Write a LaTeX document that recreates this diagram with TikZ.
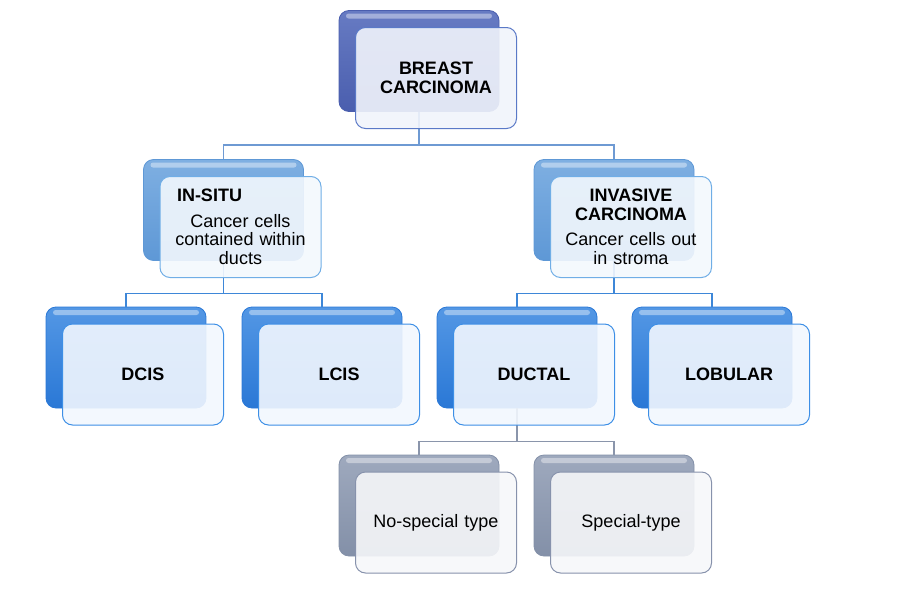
\documentclass[tikz,border=0pt]{standalone}
\usepackage{fontspec}
\setmainfont{Liberation Sans}
\usepackage{xcolor}
\usepackage{tikz}
\definecolor{topDark}{HTML}{4A5EAE}
\definecolor{topLight}{HTML}{8A9EDC}
\definecolor{topEdge}{HTML}{5A79C7}
\definecolor{topFront}{HTML}{F1F4FB}
\definecolor{topLine}{HTML}{6E9AD3}
\definecolor{midDark}{HTML}{5E98D6}
\definecolor{midLight}{HTML}{A6CBF0}
\definecolor{midEdge}{HTML}{70AEE6}
\definecolor{midFront}{HTML}{F3F8FD}
\definecolor{midLine}{HTML}{3E87D8}
\definecolor{lowDark}{HTML}{2A78D6}
\definecolor{lowLight}{HTML}{86BDF6}
\definecolor{lowEdge}{HTML}{3D8FE6}
\definecolor{lowFront}{HTML}{F2F7FE}
\definecolor{lowLine}{HTML}{8A95AB}
\definecolor{subDark}{HTML}{8390A8}
\definecolor{subLight}{HTML}{C0C8D8}
\definecolor{subEdge}{HTML}{8792AC}
\definecolor{subFront}{HTML}{F6F7F9}
\newcommand{\boxfont}{\fontsize{18}{18.5}\selectfont}
\tikzset{
  backbox/.style 2 args={rectangle, rounded corners=10pt, draw=#1, top color=#2!45!#1, bottom color=#1, line width=0.8pt, minimum width=160pt, minimum height=101pt, inner sep=0pt,
    path picture={\fill[white, opacity=0.4, rounded corners=2.5pt] ([xshift=7pt,yshift=-3pt]path picture bounding box.north west) rectangle ([xshift=-7pt,yshift=-8pt]path picture bounding box.north east);}},
  frontbox/.style 2 args={rectangle, rounded corners=10pt, draw=#1, fill=#2, fill opacity=0.9, text opacity=1, line width=1pt, align=center, font=\boxfont, text width=145pt, minimum width=161pt, minimum height=101pt, inner sep=0pt},
  treeline/.style={draw=#1, line width=1.3pt},
}

\begin{document}
\begin{tikzpicture}[x=1pt,y=-1pt]
  \useasboundingbox (0,0) rectangle (923,597);

  % back boxes
  \node[backbox={topDark}{topLight}] (topback) at (419, 61) {};
  \node[backbox={midDark}{midLight}] (insituback) at (223.5, 210) {};
  \node[backbox={midDark}{midLight}] (invback) at (614, 210) {};
  \node[backbox={lowDark}{lowLight}] (dcisback) at (126, 357.5) {};
  \node[backbox={lowDark}{lowLight}] (lcisback) at (322, 357.5) {};
  \node[backbox={lowDark}{lowLight}] (ductback) at (517, 357.5) {};
  \node[backbox={lowDark}{lowLight}] (lobback) at (712, 357.5) {};
  \node[backbox={subDark}{subLight}] (nstback) at (419, 505.5) {};
  \node[backbox={subDark}{subLight}] (specback) at (614, 505.5) {};

  % connectors
  \draw[treeline=topLine] (topback.south) -- ++(0,33) -| (insituback.north);
  \draw[treeline=topLine] (topback.south) -- ++(0,33) -| (invback.north);
  \draw[treeline=midLine] (insituback.south) -- ++(0,32.5) -| (dcisback.north);
  \draw[treeline=midLine] (insituback.south) -- ++(0,32.5) -| (lcisback.north);
  \draw[treeline=midLine] (invback.south) -- ++(0,32.5) -| (ductback.north);
  \draw[treeline=midLine] (invback.south) -- ++(0,32.5) -| (lobback.north);
  \draw[treeline=lowLine] (ductback.south) -- ++(0,33) -| (nstback.north);
  \draw[treeline=lowLine] (ductback.south) -- ++(0,33) -| (specback.north);

  % front boxes
  \node[frontbox={topEdge}{topFront}] (top) at (436, 78) {\textbf{BREAST}\\\textbf{CARCINOMA}};
  \node[frontbox={midEdge}{midFront}] (insitu) at (240.5, 227) {\makebox[145pt][l]{\hspace{9pt}\textbf{IN-SITU}}\\[7pt]Cancer cells\\contained within\\ducts};
  \node[frontbox={midEdge}{midFront}] (invasive) at (631, 227) {\textbf{INVASIVE}\\\textbf{CARCINOMA}\\[7pt]Cancer cells out\\in stroma};
  \node[frontbox={lowEdge}{lowFront}] (dcis) at (143, 374.5) {\textbf{DCIS}};
  \node[frontbox={lowEdge}{lowFront}] (lcis) at (339, 374.5) {\textbf{LCIS}};
  \node[frontbox={lowEdge}{lowFront}] (ductal) at (534, 374.5) {\textbf{DUCTAL}};
  \node[frontbox={lowEdge}{lowFront}] (lobular) at (729, 374.5) {\textbf{LOBULAR}};
  \node[frontbox={subEdge}{subFront}] (nst) at (436, 522.5) {No-special type};
  \node[frontbox={subEdge}{subFront}] (special) at (631, 522.5) {Special-type};
\end{tikzpicture}
\end{document}
